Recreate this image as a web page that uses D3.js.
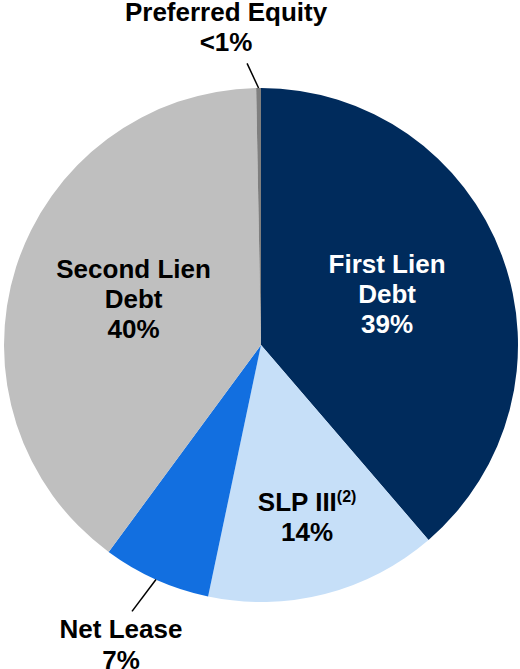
<!DOCTYPE html>
<html>
<head>
<meta charset="utf-8">
<script src="https://cdn.jsdelivr.net/npm/d3@7"></script>
<style>
  body { margin: 0; background: #fff; }
  text { font-family: "Liberation Sans", Arial, sans-serif; font-weight: bold; }
</style>
</head>
<body>
<div id="chart"></div>
<script>
// Portfolio composition
var categories = ["First Lien Debt", "SLP III", "Net Lease", "Second Lien Debt", "Preferred Equity"];
var values = [38.7, 14.6, 6.8, 39.6, 0.3];
var labelLines = [["First Lien", "Debt", "39%"], ["SLP III", "14%"], ["Net Lease", "7%"], ["Second Lien", "Debt", "40%"], ["Preferred Equity", "<1%"]];
var colors = ["#002B5C", "#C6DFF8", "#126FE0", "#BFBFBF", "#7F7F7F"];
var textColors = ["#fff", "#000", "#000", "#000", "#000"];

var width = 520, height = 669;
var cx = 261, cy = 345, radius = 257;

var svg = d3.select("#chart").append("svg")
    .attr("width", width)
    .attr("height", height);

var g = svg.append("g").attr("transform", "translate(" + cx + "," + cy + ")");

var pie = d3.pie().sort(null).value(d => d)(values);
var arc = d3.arc().innerRadius(0).outerRadius(radius);

g.selectAll(".slice")
    .data(pie)
    .enter()
    .append("path")
    .attr("class", "slice")
    .attr("d", arc)
    .style("fill", (d, i) => colors[i]);

// label placement: r = distance from centre, da = angle nudge (rad)
var lineH = 30;
var inside = { 0: { r: 136, da: -0.03 }, 1: { r: 178.5, da: -0.01 }, 3: { r: 135.5, da: 0.038 } };

function polar(a, r) { return [Math.sin(a) * r, -Math.cos(a) * r]; }

function leader(p1, p2) {
    g.append("line").attr("x1", p1[0]).attr("y1", p1[1]).attr("x2", p2[0]).attr("y2", p2[1])
        .style("stroke", "#000").style("stroke-width", 1.5);
}

pie.forEach(function (d, i) {
    var mid = (d.startAngle + d.endAngle) / 2;
    var lines = labelLines[i];
    var x, firstY;
    if (inside[i]) {
        var pos = polar(mid + inside[i].da, inside[i].r);
        x = pos[0];
        firstY = pos[1] - (lines.length - 1) * lineH / 2 + 9;
    } else if (i === 2) {
        var p2 = polar(mid + 0.03, radius + 39);
        leader(polar(mid, radius), p2);
        x = p2[0] - 11;
        firstY = p2[1] + 27;
    } else {
        var q2 = polar(mid - 0.04, radius + 25);
        leader(polar(mid, radius), q2);
        x = q2[0] - 21;
        firstY = -cy + 21;
    }
    var t = g.append("text")
        .attr("text-anchor", "middle")
        .style("font-size", "26px")
        .style("fill", textColors[i]);
    lines.forEach(function (s, k) {
        var ts = t.append("tspan").attr("x", x).attr("y", firstY + k * (i === 2 ? 31 : lineH)).text(s);
        if (i === 1 && k === 0) {
            ts.append("tspan").attr("dy", -9).style("font-size", "16px").text("(2)");
        }
    });
});
</script>
</body>
</html>
